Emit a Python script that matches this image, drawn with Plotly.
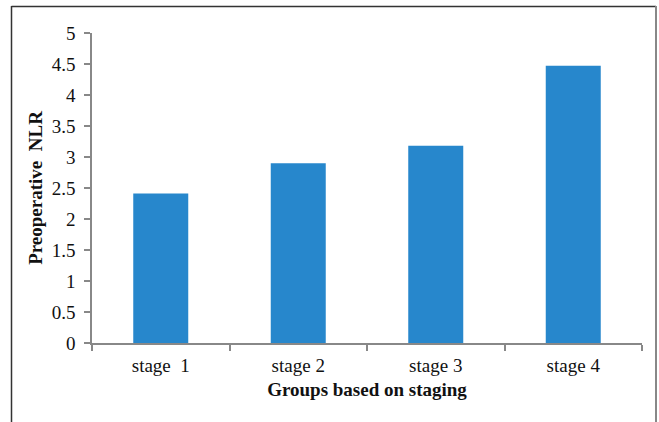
import plotly.graph_objects as go

categories = ["stage  1", "stage 2", "stage 3", "stage 4"]
values = [2.41, 2.90, 3.18, 4.47]
y_ticks = [0, 0.5, 1, 1.5, 2, 2.5, 3, 3.5, 4, 4.5, 5]
y_tick_labels = ["0", "0.5", "1", "1.5", "2", "2.5", "3", "3.5", "4", "4.5", "5"]

font_family = "Liberation Serif, Times New Roman, serif"
FS = 19

fig = go.Figure(go.Bar(
    x=categories, y=values,
    marker=dict(color="#2787cc", line=dict(width=0)),
    width=0.4,
))

L, R, T, B = 92, 17, 33, 79
W, H = 659, 422
pw = W - L - R
ph = H - T - B

def px_x(p):
    return (p - L) / pw

def px_y(p):
    return (H - B - p) / ph

shapes = [
    dict(type="line", xref="paper", yref="paper", x0=px_x(11.5), x1=px_x(11.5), y0=px_y(6), y1=px_y(440),
         line=dict(color="#333333", width=1.5)),
    dict(type="line", xref="paper", yref="paper", x0=px_x(11.5), x1=px_x(656), y0=px_y(6.5), y1=px_y(6.5),
         line=dict(color="#333333", width=1.5)),
    dict(type="line", xref="paper", yref="paper", x0=px_x(656), x1=px_x(656), y0=px_y(6), y1=px_y(440),
         line=dict(color="#888888", width=2)),
]

fig.update_layout(
    width=W, height=H,
    margin=dict(l=L, r=R, t=T, b=B),
    paper_bgcolor="white", plot_bgcolor="white",
    font=dict(family=font_family, size=FS, color="#111111"),
    showlegend=False,
    shapes=shapes,
    xaxis=dict(
        showline=True, linecolor="#888888", linewidth=1.5,
        ticks="outside", ticklen=6, tickcolor="#888888", tickwidth=1.5,
        tickson="boundaries", showgrid=False,
        ticklabelstandoff=4,
        tickfont=dict(family=font_family, size=FS, color="#111111"),
        title=dict(text="<b>Groups based on staging</b>", standoff=8,
                   font=dict(family=font_family, size=FS, color="#111111")),
    ),
    yaxis=dict(
        range=[0, 5], tickvals=y_ticks, ticktext=y_tick_labels,
        showline=True, linecolor="#888888", linewidth=1.5,
        ticks="outside", ticklen=6, tickcolor="#888888", tickwidth=1.5,
        showgrid=False, zeroline=False,
        ticklabelstandoff=5,
        tickfont=dict(family=font_family, size=FS, color="#111111"),
        title=dict(text="<b>Preoperative  NLR</b>", standoff=4,
                   font=dict(family=font_family, size=FS, color="#111111")),
    ),
)

fig.write_html("out.html", config={"displayModeBar": False},
               post_script="document.body.style.margin='0';")
